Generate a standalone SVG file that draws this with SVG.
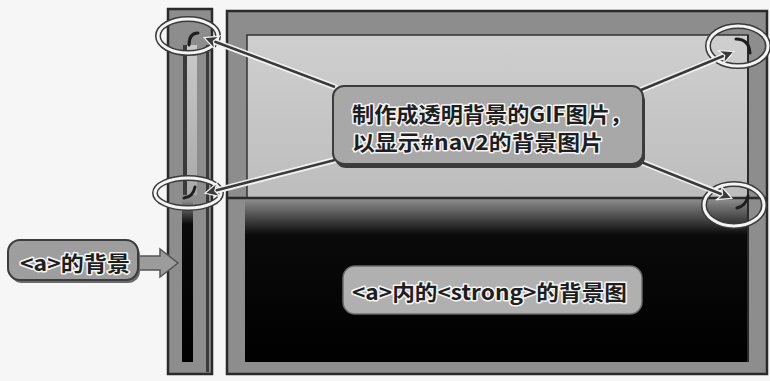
<svg xmlns="http://www.w3.org/2000/svg" width="770" height="381" viewBox="0 0 770 381">
<style>
.frame{fill:#8d8d8d;stroke:#2a2a2a;stroke-width:2.5}
.outline{fill:none;stroke:#2a2a2a;stroke-width:2}
.ring-o{fill:none;stroke:#3a3a3a;stroke-width:6}
.ring-i{fill:none;stroke:#f4f4f4;stroke-width:3}
.curl{fill:none;stroke:#1e1e1e;stroke-width:3;stroke-linecap:round}
.halo{fill:none;stroke:#f2f2f2;stroke-width:6;stroke-linecap:round}
.wire{fill:none;stroke:#3a3a3a;stroke-width:2.6;marker-end:url(#ah)}
.box{stroke:#3c3c3c;stroke-width:2}
.txt{font-family:"Noto Sans CJK SC","Noto Sans",sans-serif;font-weight:bold;fill:#1e1e1e;stroke:#f4f4f4;stroke-width:3;stroke-linejoin:round;paint-order:stroke}
</style>
<defs>
<marker id="ah" markerUnits="userSpaceOnUse" markerWidth="18" markerHeight="16" refX="14" refY="8" orient="auto">
<path d="M1,1 L15,8 L1,15 L5,8 z" fill="#3a3a3a" stroke="#f2f2f2" stroke-width="1.2"/>
</marker>
<linearGradient id="dark" x1="0" y1="0" x2="0" y2="1">
<stop offset="0" stop-color="#8d8d8d"/>
<stop offset="0.22" stop-color="#0a0a0a"/>
<stop offset="1" stop-color="#000"/>
</linearGradient>
<linearGradient id="darkstrip" x1="0" y1="0" x2="0" y2="1">
<stop offset="0" stop-color="#8d8d8d"/>
<stop offset="0.15" stop-color="#0a0a0a"/>
<stop offset="1" stop-color="#000"/>
</linearGradient>
<linearGradient id="light" x1="0" y1="0" x2="0" y2="1">
<stop offset="0" stop-color="#cfcfcf"/>
<stop offset="1" stop-color="#bdbdbd"/>
</linearGradient>
<linearGradient id="lightstrip" x1="0" y1="0" x2="0" y2="1">
<stop offset="0" stop-color="#c9c9c9"/>
<stop offset="1" stop-color="#a9a9a9"/>
</linearGradient>
</defs>
<rect width="770" height="381" fill="#f6f6f6"/>

<g id="left-bar">
<rect class="frame" x="168" y="9" width="44" height="365"/>
<rect x="183" y="45" width="4" height="150" fill="#3a3a3a"/>
<rect x="187" y="45" width="10" height="150" fill="url(#lightstrip)"/>
<rect x="206" y="45" width="3" height="327" fill="#3a3a3a"/>
<rect x="182" y="200" width="11" height="162" fill="url(#darkstrip)"/>
</g>

<g id="main-frame">
<rect class="frame" x="227" y="11" width="540" height="363"/>
<rect x="247" y="35" width="501" height="163" fill="url(#light)" stroke="#333" stroke-width="1.5"/>
<rect x="245" y="199" width="503" height="163" fill="url(#dark)"/>
<line x1="227" y1="198" x2="767" y2="198" stroke="#2a2a2a" stroke-width="2.5"/>
<line x1="748" y1="35" x2="748" y2="362" stroke="#2a2a2a" stroke-width="2"/>
</g>

<g id="corner-marks">
<ellipse class="ring-o" cx="188" cy="36" rx="30" ry="17"/>
<ellipse class="ring-i" cx="188" cy="36" rx="30" ry="17"/>
<path class="curl" d="M189,45 Q189,33 198,33"/>
<ellipse class="ring-o" cx="188" cy="193" rx="33" ry="15"/>
<ellipse class="ring-i" cx="188" cy="193" rx="33" ry="15"/>
<path class="curl" d="M184,198 Q193,197 195,187"/>
<ellipse class="ring-o" cx="738" cy="46" rx="30" ry="20"/>
<ellipse class="ring-i" cx="738" cy="46" rx="30" ry="20"/>
<path class="curl" d="M736,39 Q749,39 750,53"/>
<ellipse class="ring-o" cx="734" cy="205" rx="30" ry="21"/>
<ellipse class="ring-i" cx="734" cy="205" rx="30" ry="21"/>
<path class="curl" d="M737,208 Q746,206 748,196"/>
</g>

<g id="connectors">
<line class="halo" x1="335" y1="87" x2="210" y2="40"/>
<line class="halo" x1="335" y1="160" x2="211" y2="192"/>
<line class="halo" x1="641" y1="90" x2="729" y2="54"/>
<line class="halo" x1="641" y1="162" x2="727" y2="196"/>
<line class="wire" x1="335" y1="87" x2="205" y2="38"/>
<line class="wire" x1="335" y1="160" x2="206" y2="193"/>
<line class="wire" x1="641" y1="90" x2="733" y2="52"/>
<line class="wire" x1="641" y1="162" x2="731" y2="198"/>
</g>

<g id="callout-gif">
<rect x="335" y="90" width="310" height="78" rx="11" fill="#3a3a3a"/>
<rect class="box" x="333" y="86" width="310" height="78" rx="11" fill="#a8a8a8"/>
<text class="txt" x="352" y="122" font-size="21" textLength="280" lengthAdjust="spacingAndGlyphs">制作成透明背景的GIF图片，</text>
<text class="txt" x="352" y="150" font-size="21" textLength="251" lengthAdjust="spacingAndGlyphs">以显示#nav2的背景图片</text>
</g>

<g id="label-a">
<path d="M136,256 L160,256 L160,249 L178,263 L160,277 L160,270 L136,270 z" fill="#9c9c9c" stroke="#555" stroke-width="1.5"/>
<rect x="10" y="243" width="130" height="40" rx="12" fill="#6a6a6a"/>
<rect class="box" x="8" y="240" width="130" height="40" rx="12" fill="#9e9e9e"/>
<text class="txt" x="20" y="271" font-size="21" textLength="110" lengthAdjust="spacingAndGlyphs">&lt;a&gt;的背景</text>
</g>

<g id="label-strong">
<rect x="343" y="266" width="299" height="48" rx="12" fill="#b0b0b0" stroke="#6a6a6a" stroke-width="1.5"/>
<text class="txt" x="352" y="300" font-size="21" textLength="275" lengthAdjust="spacingAndGlyphs">&lt;a&gt;内的&lt;strong&gt;的背景图</text>
</g>
</svg>
